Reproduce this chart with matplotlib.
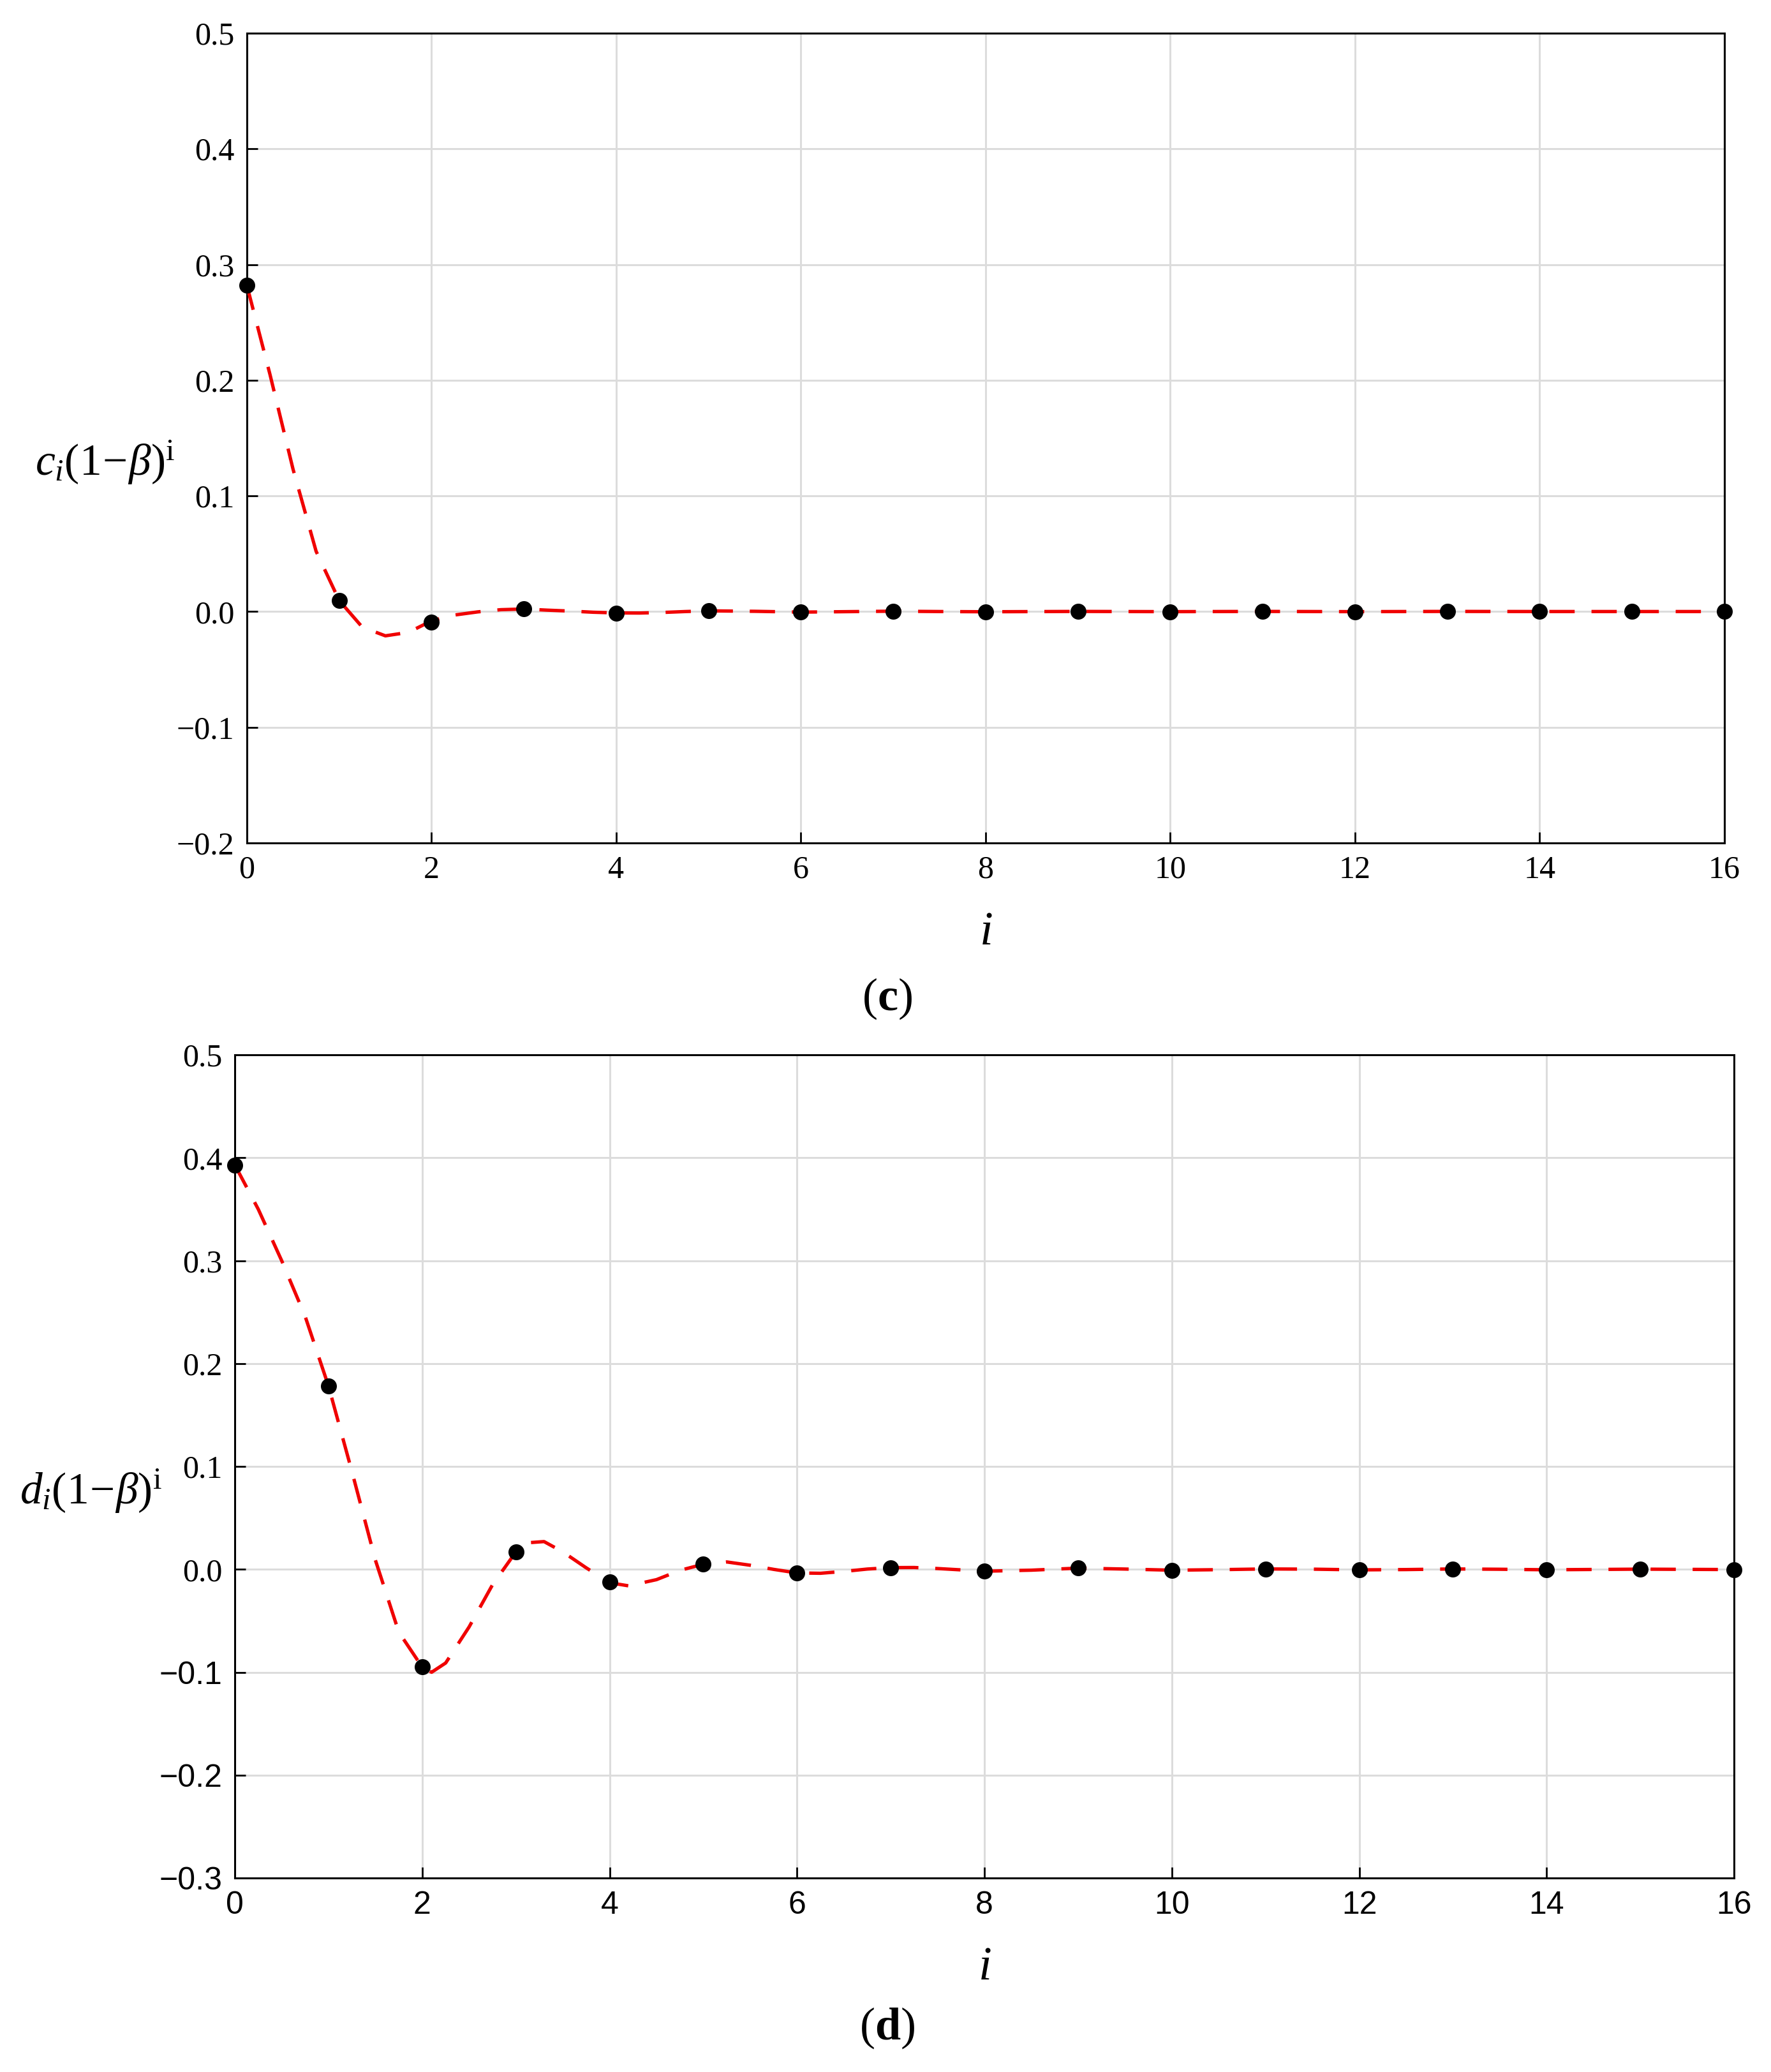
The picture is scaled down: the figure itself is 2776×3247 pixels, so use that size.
#!/usr/bin/env python3
import matplotlib
matplotlib.use("Agg")
import matplotlib.pyplot as plt
from matplotlib.ticker import MultipleLocator, FuncFormatter

# sample index i and the coefficients
idx = list(range(17))
c_pts = [0.282, 0.0097, -0.0092, 0.0022, -0.0013, 0.0007, -0.0005, 0.0003,
         -0.0002, 0.0001, -0.0001, 0.0001, -0.0001, 0.0001, 0.0, 0.0, 0.0]
d_pts = [0.393, 0.178, -0.0947, 0.0171, -0.0122, 0.0050, -0.0035, 0.0017,
         -0.0019, 0.0012, -0.0008, 0.0004, -0.0006, 0.0004, -0.0004, 0.0002,
         -0.0002]

# red dashed curves
c_curve_x = [0, 0.25, 0.5, 0.75, 1.0, 1.25, 1.5, 1.75, 2.0, 2.25, 2.5, 2.75,
             3.0, 3.25, 3.5, 3.75, 4.0, 4.25, 4.5, 4.75, 5.0, 5.5, 6.0, 6.5,
             7.0, 7.5, 8.0, 9.0, 10.0, 11.0, 12.0, 13.0, 14.0, 15.0, 16.0]
c_curve_y = [0.282, 0.205, 0.123, 0.052, 0.0095, -0.0135, -0.021, -0.018,
             -0.008, -0.003, -0.0003, 0.0016, 0.0022, 0.0012, 0.0004, -0.0006,
             -0.0012, -0.0013, -0.0008, 0.0, 0.0006, 0.0002, -0.0005, -0.0001,
             0.0003, 0.0, -0.0002, 0.0001, -0.0001, 0.0001, -0.0001, 0.0001,
             0.0, 0.0, 0.0]

d_curve_x = [0, 0.25, 0.5, 0.75, 1.0, 1.25, 1.5, 1.75, 2.0, 2.1, 2.25, 2.5,
             2.75, 3.0, 3.15, 3.3, 3.5, 3.75, 4.0, 4.2, 4.5, 4.75, 5.0, 5.25,
             5.5, 5.75, 6.0, 6.25, 6.5, 6.75, 7.0, 7.25, 7.5, 7.75, 8.0, 8.5,
             9.0, 9.5, 10.0, 10.5, 11.0, 11.5, 12.0, 12.5, 13.0, 13.5, 14.0,
             14.5, 15.0, 15.5, 16.0]
d_curve_y = [0.393, 0.350, 0.300, 0.246, 0.178, 0.095, 0.009, -0.061, -0.095,
             -0.100, -0.091, -0.056, -0.015, 0.017, 0.026, 0.027, 0.017,
             0.0015, -0.013, -0.016, -0.010, -0.001, 0.005, 0.0072, 0.004,
             0.0, -0.0035, -0.0038, -0.002, 0.0003, 0.0017, 0.0018, 0.0008,
             -0.0005, -0.0018, -0.0008, 0.0012, 0.0003, -0.0008, -0.0003,
             0.0004, 0.0002, -0.0005, -0.0002, 0.0004, 0.0001, -0.0004,
             -0.0001, 0.0002, 0.0, -0.0002]

plt.rcParams['font.family'] = ['Liberation Serif', 'DejaVu Serif']
plt.rcParams['mathtext.fontset'] = 'custom'
plt.rcParams['mathtext.rm'] = 'Liberation Serif'
plt.rcParams['mathtext.it'] = 'Liberation Serif:italic'
plt.rcParams['mathtext.bf'] = 'Liberation Serif:bold'

SANS_NARROW = ['Liberation Sans Narrow', 'Liberation Sans']

fig = plt.figure(figsize=(13.88, 16.235), dpi=200)
ax_c = fig.add_axes([0.1394, 0.5932, 0.8343, 0.3908])
ax_d = fig.add_axes([0.1326, 0.0936, 0.8465, 0.3973])

def fmt(v, pos):
    return ("%.1f" % v).replace("-", "\u2212")

def style(ax, ylo, yhi):
    ax.set_xlim(0, 16)
    ax.set_ylim(ylo, yhi)
    ax.xaxis.set_major_locator(MultipleLocator(2))
    ax.yaxis.set_major_locator(MultipleLocator(0.1))
    ax.yaxis.set_major_formatter(FuncFormatter(fmt))
    ax.grid(True, color="#dcdcdc", linewidth=1.1)
    ax.set_axisbelow(True)
    ax.tick_params(direction="in", length=6, width=1.0, labelsize=18,
                   top=False, right=False, pad=7)
    for s in ax.spines.values():
        s.set_linewidth(1.1)
        s.set_color("black")

for ax, pts, cx, cy, lab, ylo in [
        (ax_c, c_pts, c_curve_x, c_curve_y, r"$c_i(1\!-\!\beta)^{\mathrm{i}}$", -0.2),
        (ax_d, d_pts, d_curve_x, d_curve_y, r"$d_i(1\!-\!\beta)^{\mathrm{i}}$", -0.3)]:
    style(ax, ylo, 0.5)
    ax.plot(cx, cy, color="#f00000", linewidth=1.9, linestyle=(0, (7.5, 5.0)),
            zorder=3, clip_on=False)
    ax.plot(idx, pts, "o", color="black", markersize=8, zorder=4,
            clip_on=False)
    ax.set_xlabel(r"$i$", fontsize=27, labelpad=15)
    ax.set_ylabel(lab, fontsize=25, rotation=0, ha="center", va="center")
    ax.yaxis.set_label_coords(-0.096, 0.47)

# panel (d) has its x ticks and negative y ticks in a narrow sans face
fig.canvas.draw()
for t in ax_d.get_xticklabels():
    t.set_family(SANS_NARROW)
for t in ax_d.get_yticklabels():
    if t.get_text().startswith("\u2212"):
        t.set_family(SANS_NARROW)

fig.text(0.501, 1 - 1565 / 3247, r"($\mathbf{c}$)", fontsize=26,
         ha="center", va="center")
fig.text(0.501, 1 - 3178 / 3247, r"($\mathbf{d}$)", fontsize=26,
         ha="center", va="center")

plt.savefig("out.png", dpi=200)
